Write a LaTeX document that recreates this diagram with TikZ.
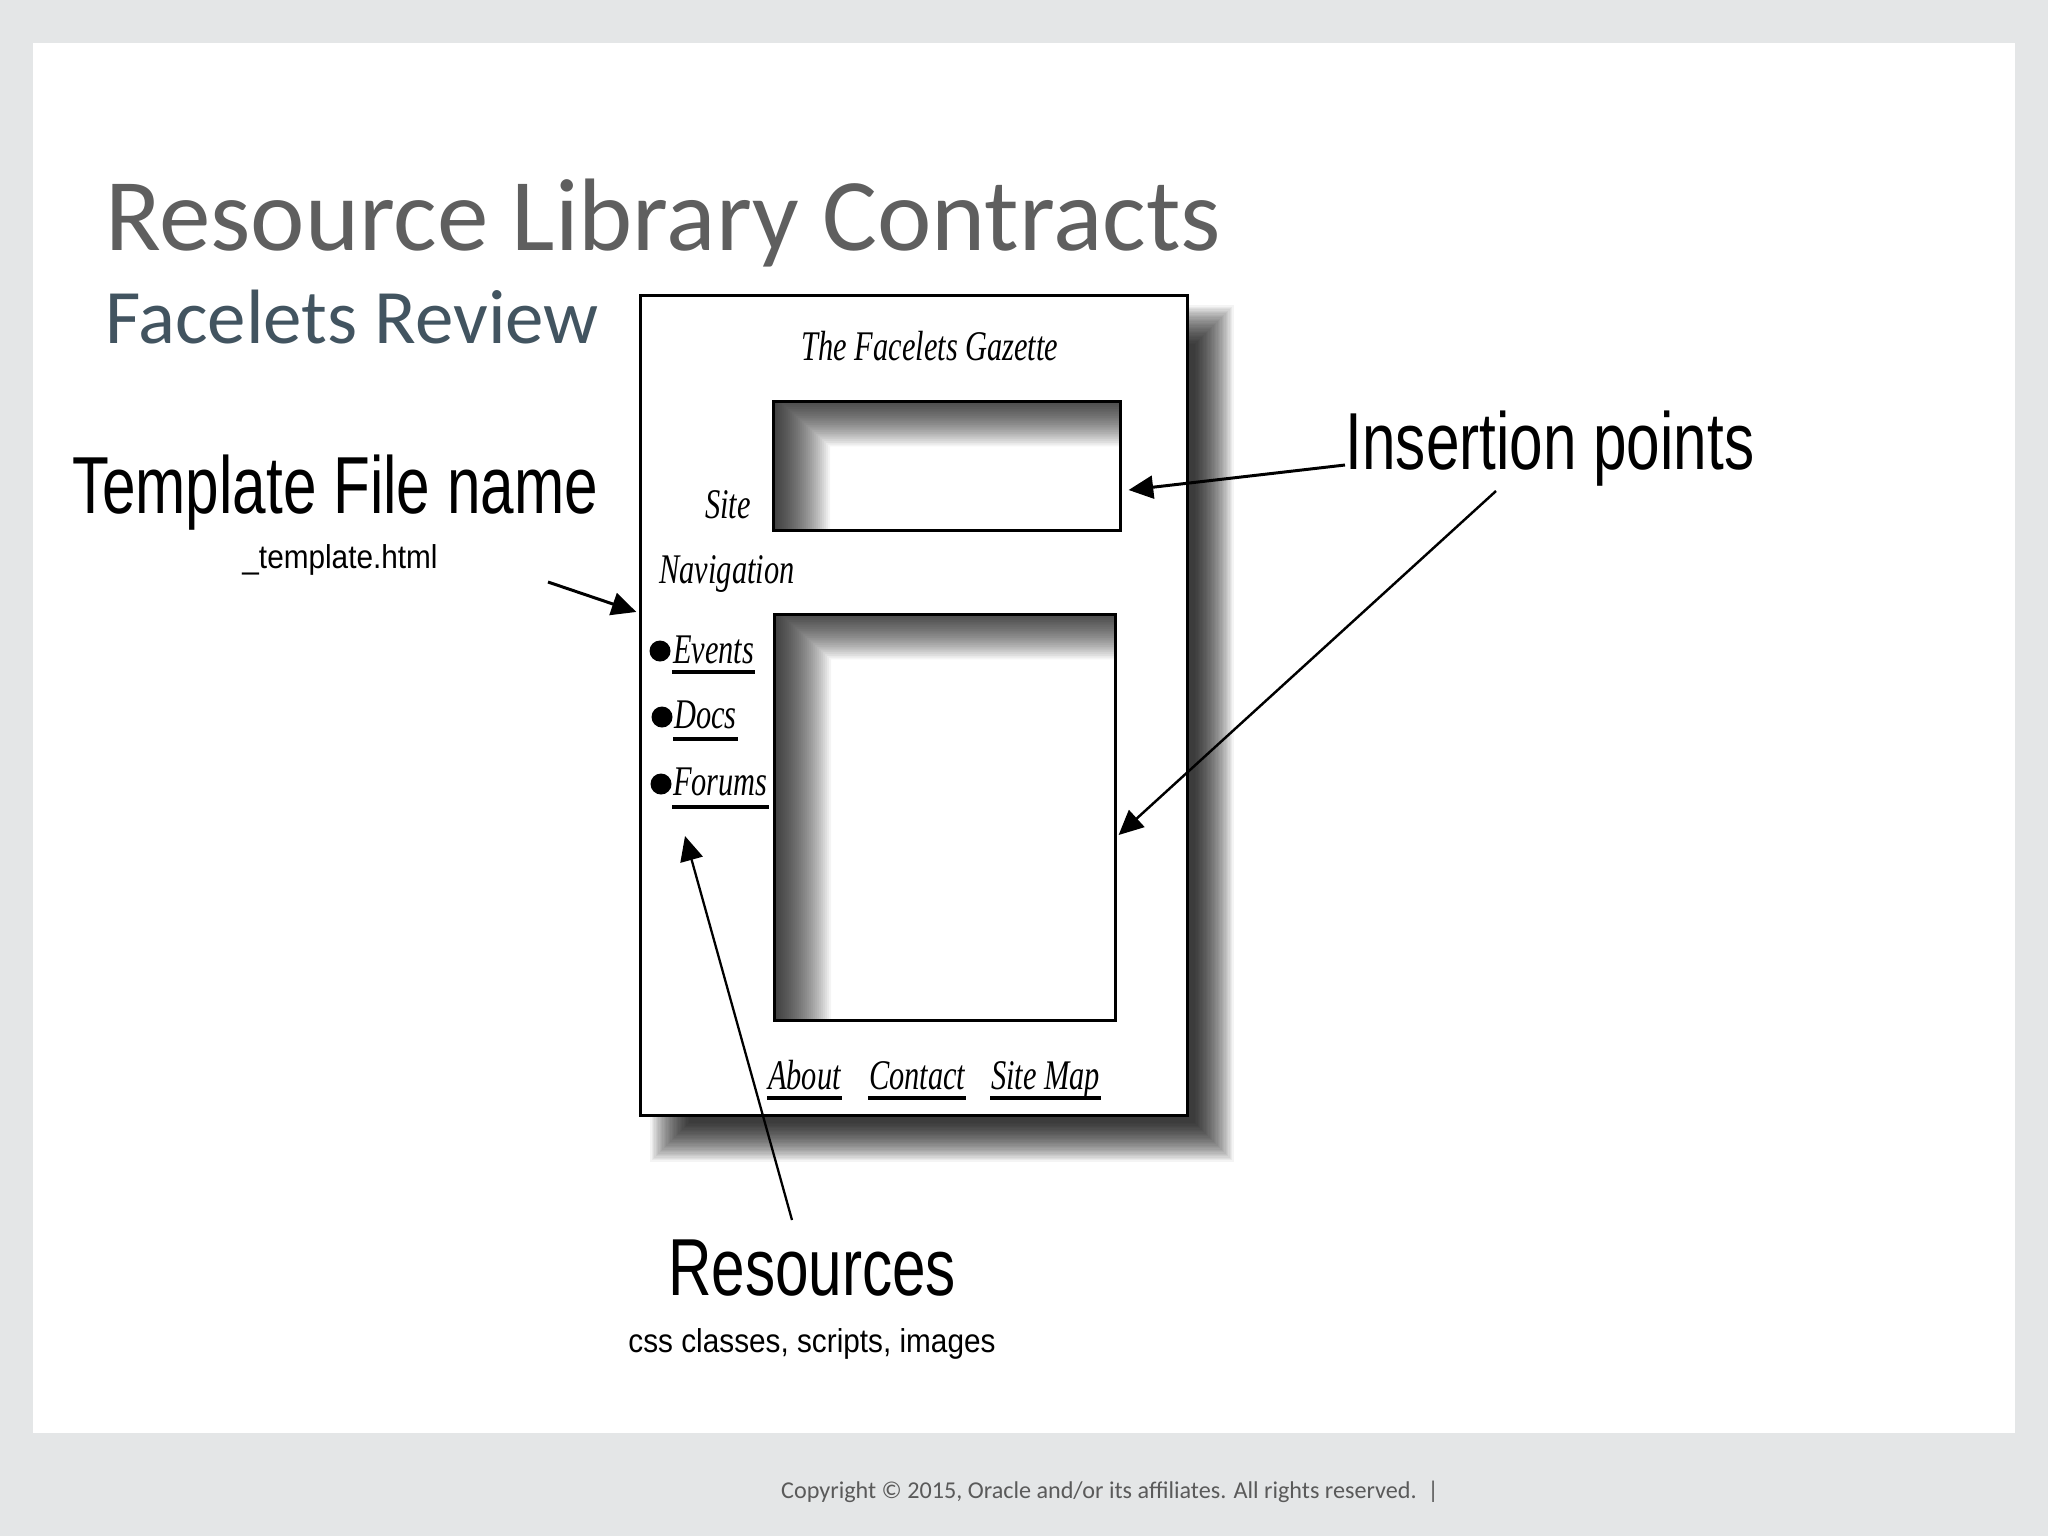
\documentclass[tikz,border=0pt]{standalone}
\usepackage{fontspec}
\setmainfont{Carlito}
\newfontfamily\helvcn[FakeStretch=0.745]{Liberation Sans}
\newfontfamily\helvsm[FakeStretch=0.9]{Liberation Sans}
\newfontfamily\chanc{Liberation Serif}
\usepackage{graphicx}
\usetikzlibrary{arrows.meta}
\definecolor{slidegray}{RGB}{228,230,231}
\definecolor{titlegray}{RGB}{95,95,95}
\definecolor{subblue}{RGB}{66,84,96}
\definecolor{footgray}{RGB}{90,90,90}
\newcommand{\ch}[1]{\scalebox{0.72}[1]{\chanc\itshape #1}}
% inner shadow of a box: x1,y1,x2,y2
\newcommand{\innershade}[4]{%
  \begin{scope}
    \clip (#1,#2) rectangle (#3,#4);
    \foreach \k in {1,...,28}
      \fill[black,opacity=0.042,even odd rule] (#1-60,#2-60) rectangle (#3+60,#4+60)
        (#1+\k*2,#2-6+\k*1.8) rectangle (#3+300,#4+300);
  \end{scope}}

\begin{document}
\begin{tikzpicture}[x=0.01cm,y=-0.01cm
  ,arr/.style={-{Triangle[length=7pt,width=6.5pt]},line width=0.85pt}
  ,box/.style={draw,line width=0.85pt,inner sep=0pt}
  ,semithick]
  \tikzstyle{big}=[font=\helvcn\fontsize{23}{26}\selectfont,inner sep=0pt]
  \tikzstyle{small}=[font=\helvsm\fontsize{9.4}{11}\selectfont,inner sep=0pt]
  \tikzstyle{chan}=[font=\fontsize{12}{14}\selectfont,inner sep=0pt]
  \tikzstyle{dot}=[circle,fill,inner sep=0pt,minimum size=2.1mm]
  \tikzstyle{uline}=[line width=0.9pt]

  \useasboundingbox (0,0) rectangle (2048,1536);
  \fill[slidegray] (0,0) rectangle (2048,1536);
  \fill[white] (33,43) rectangle (2015,1433);

  % slide title
  \node[anchor=base west,inner sep=0pt,text=titlegray
  ,font=\fontsize{29.3}{33}\selectfont] (title) at (104,250) {Resource Library Contracts};
  \node[anchor=base west,inner sep=0pt,text=subblue
  ,font=\fontsize{21.9}{26}\selectfont] (subtitle) at (104,343) {Facelets Review};

  % page with its shadow
  \foreach \k in {1,...,30}
    \fill[black,opacity=0.045] (649+\k*1.33,304+\k*1.33) rectangle (1235-\k*1.33,1163-\k*1.33);
  \node[box,fill=white,minimum width=5.46cm,minimum height=8.19cm] (page) at (914,705.5) {};

  % insertion boxes
  \innershade{774}{402}{1120}{530}
  \innershade{775}{615}{1115}{1020}
  \node[box,minimum width=3.46cm,minimum height=1.28cm] (top) at (947,466) {};
  \node[box,minimum width=3.40cm,minimum height=4.05cm] (bottom) at (945,817.5) {};

  % page texts
  \node[chan,anchor=base] (gazette) at (930,360) {\ch{The Facelets Gazette}};
  \node[chan,anchor=base] (site) at (728,518) {\ch{Site}};
  \node[chan,anchor=base] (nav) at (727,583) {\ch{Navigation}};

  \node[chan,anchor=base west] (events) at (672,663) {\ch{Events}};
  \node[chan,anchor=base west] (docs) at (673,728) {\ch{Docs}};
  \node[chan,anchor=base west] (forums) at (672,795) {\ch{Forums}};
  \node[dot] (b1) at (660,651) {};
  \node[dot] (b2) at (662,717) {};
  \node[dot] (b3) at (661,784) {};

  \node[chan,anchor=base west] (about) at (767,1089) {\ch{About}};
  \node[chan,anchor=base west] (contact) at (868,1089) {\ch{Contact}};
  \node[chan,anchor=base west] (sitemap) at (990,1089) {\ch{Site Map}};

  \foreach \n/\d in {events/0.9mm,docs/1.1mm,forums/1.2mm,about/0.9mm,contact/0.9mm,sitemap/0.9mm}
    \draw[uline] ([yshift=-\d]\n.base west) -- ([yshift=-\d]\n.base east);

  % callouts
  \node[big,anchor=base] (tplname) at (335,513) {Template File name};
  \node[small,anchor=base] (fname) at (340,568) {\_template.html};
  \node[big,anchor=base] (ins) at (1550,469) {Insertion points};
  \node[big,anchor=base] (res) at (812,1295) {Resources};
  \node[small,anchor=base] (css) at (812,1352) {css classes, scripts, images};

  \coordinate (tplTail) at (548,582);
  \coordinate (insTail1) at (1345,465);
  \coordinate (insTail2) at (1496,491);
  \coordinate (resTail) at (792,1220);

  \path[arr]
  (tplTail) edge ([xshift=-0.3mm,yshift=9.35mm]page.west)
  (insTail1) edge ([xshift=0.7mm,yshift=-2.4mm]top.east);
  \path[arr,line width=0.7pt]
  (insTail2) edge ([xshift=0.2mm,yshift=-1.75mm]bottom.east);
  \path[arr,line width=0.65pt]
  (resTail) edge ([xshift=1.3mm,yshift=-4.1mm]forums.base west);

  % footer
  \node[anchor=base,inner sep=0pt,text=footgray
  ,font=\fontsize{6.87}{8}\selectfont] (foot) at (1110,1498) {Copyright © 2015, Oracle and/or its affiliates. All rights reserved.\ \ |};
\end{tikzpicture}
\end{document}
